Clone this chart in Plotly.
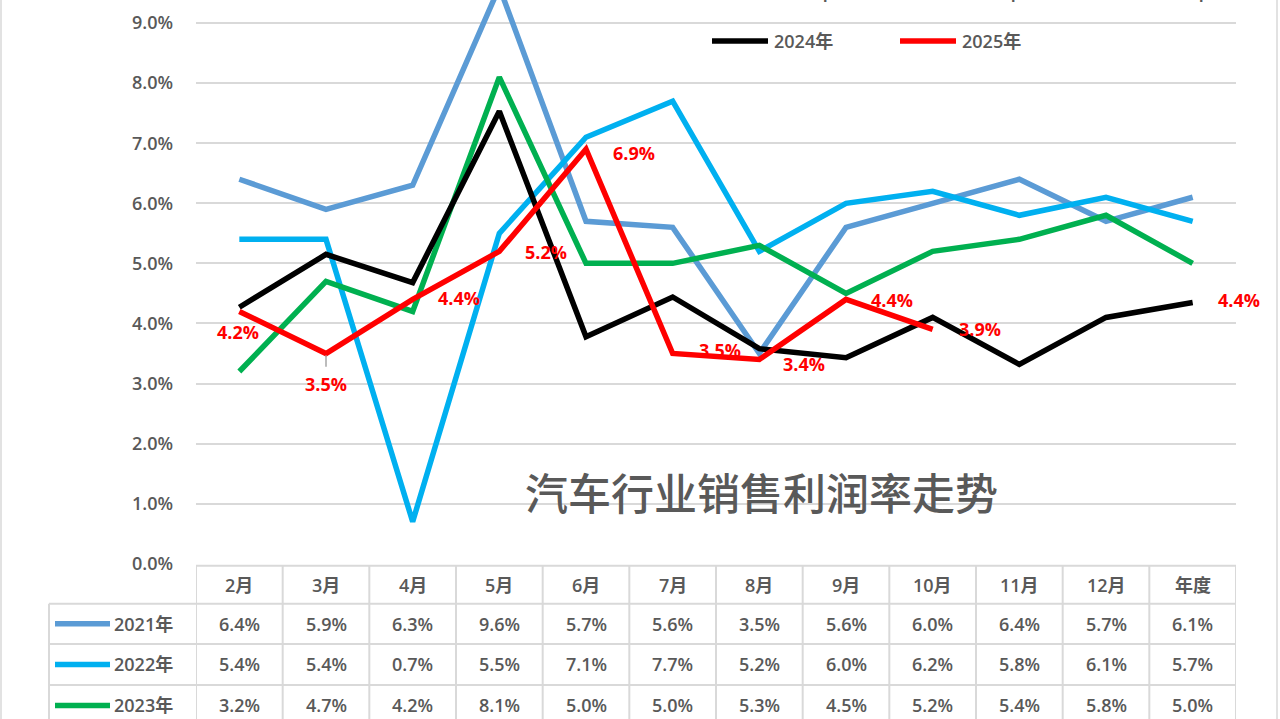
import plotly.graph_objects as go

# ---------------- data ----------------
months = ["2月", "3月", "4月", "5月", "6月", "7月", "8月", "9月", "10月", "11月", "12月", "年度"]
series_names = ["2021年", "2022年", "2023年", "2024年", "2025年"]
y2021 = [6.4, 5.9, 6.3, 9.6, 5.7, 5.6, 3.5, 5.6, 6.0, 6.4, 5.7, 6.1]
y2022 = [5.4, 5.4, 0.7, 5.5, 7.1, 7.7, 5.2, 6.0, 6.2, 5.8, 6.1, 5.7]
y2023 = [3.2, 4.7, 4.2, 8.1, 5.0, 5.0, 5.3, 4.5, 5.2, 5.4, 5.8, 5.0]
y2024 = [4.27, 5.15, 4.68, 7.53, 3.78, 4.44, 3.58, 3.43, 4.10, 3.32, 4.10, 4.35]
y2025 = [4.2, 3.5, 4.4, 5.2, 6.9, 3.5, 3.4, 4.4, 3.9]
annual_2025_label = 4.4
y_ticks = [0, 1, 2, 3, 4, 5, 6, 7, 8, 9]
title_text = "汽车行业销售利润率走势"

colors = ["#5B9BD5", "#00B0F0", "#00B050", "#000000", "#FF0000"]
all_series = [y2021, y2022, y2023, y2024, y2025]

W, H = 1280, 719          # target picture size
FIG_H = 731               # figure height (viewport is photographed slightly squeezed)
GRAY = "#595959"
GRID = "#D9D9D9"
NUMFONT = "Open Sans, Noto Sans CJK SC, sans-serif"


def px(x):
    return x / W


def py(y):
    return 1 - y / H


fig = go.Figure()
for name, vals, col in zip(series_names, all_series, colors):
    fig.add_trace(go.Scatter(
        x=months[:len(vals)], y=vals, mode="lines", name=name,
        line=dict(color=col, width=5.5), showlegend=False, hoverinfo="x+y+name"))

shapes = []
annotations = []

# 2025 data labels (offsets in pixels)
label_offsets = [(-1, -21), (0, -31), (46, 1), (47, -1), (48, -4),
                 (47, 3), (45, -4), (46, -1), (47, 0)]
for m, v, (dx, dy) in zip(months, y2025, label_offsets):
    annotations.append(dict(x=m, y=v, xref="x", yref="y", text=f"{v:.1f}%",
                            showarrow=False, xshift=dx, yshift=dy,
                            xanchor="center", yanchor="middle",
                            font=dict(family=NUMFONT, size=18, color="#FF0000", weight="bold")))
annotations.append(dict(x=months[-1], y=annual_2025_label, xref="x", yref="y",
                        text=f"{annual_2025_label:.1f}%", showarrow=False, xshift=46, yshift=-1,
                        xanchor="center", yanchor="middle",
                        font=dict(family=NUMFONT, size=18, color="#FF0000", weight="bold")))
# leader line for 3月 label
shapes.append(dict(type="line", xref="x", yref="y", x0=months[1], x1=months[1],
                   y0=y2025[1] - 0.03, y1=y2025[1] - 0.22, line=dict(color="#A6A6A6", width=1.5)))

# title inside plot
annotations.append(dict(x=px(761), y=py(490), xref="paper", yref="paper", text=title_text,
                        showarrow=False, xanchor="center", yanchor="middle",
                        font=dict(family="Noto Sans CJK SC", size=43, color=GRAY, weight=500)))

# legend (two rows, three columns; first row mostly above the visible area)
leg_pos = [(712, -7), (900, -7), (1088, -7), (712, 41), (900, 41)]
for (lx, ly), name, col in zip(leg_pos, series_names, colors):
    shapes.append(dict(type="line", xref="paper", yref="paper", x0=px(lx), x1=px(lx + 56),
                       y0=py(ly), y1=py(ly), line=dict(color=col, width=5.5)))
    annotations.append(dict(x=px(lx + 60), y=py(ly), xref="paper", yref="paper", text=name,
                            xanchor="left", yanchor="middle", showarrow=False,
                            font=dict(family=NUMFONT, size=18, color=GRAY, weight=600)))

# data table
row_edges = [565, 603, 643, 684, 725]
tab_left, tab_right = 49, 1236
shapes.append(dict(type="line", xref="paper", yref="paper", x0=px(196), x1=px(tab_right),
                   y0=py(row_edges[0]), y1=py(row_edges[0]), line=dict(color=GRID, width=2)))
for r in row_edges[1:]:
    shapes.append(dict(type="line", xref="paper", yref="paper", x0=px(tab_left), x1=px(tab_right),
                       y0=py(r), y1=py(r), line=dict(color=GRID, width=2)))
for k in range(len(months) + 1):
    shapes.append(dict(type="line", xref="x", yref="paper", x0=k - 0.5, x1=k - 0.5,
                       y0=py(row_edges[0]), y1=0, line=dict(color=GRID, width=2)))
shapes.append(dict(type="line", xref="paper", yref="paper", x0=px(tab_left), x1=px(tab_left),
                   y0=py(row_edges[1]), y1=0, line=dict(color=GRID, width=2)))

hy = (row_edges[0] + row_edges[1]) / 2
for m in months:
    annotations.append(dict(x=m, y=py(hy), xref="x", yref="paper", text=m, showarrow=False,
                            xanchor="center", yanchor="middle",
                            font=dict(family=NUMFONT, size=18, color=GRAY, weight=600)))
for i, (name, vals, col) in enumerate(zip(series_names[:3], all_series[:3], colors[:3])):
    cy = (row_edges[i + 1] + row_edges[i + 2]) / 2
    shapes.append(dict(type="line", xref="paper", yref="paper", x0=px(55), x1=px(110),
                       y0=py(cy), y1=py(cy), line=dict(color=col, width=5.5)))
    annotations.append(dict(x=px(112), y=py(cy), xref="paper", yref="paper", text=name,
                            xanchor="left", yanchor="middle", showarrow=False,
                            font=dict(family=NUMFONT, size=18, color=GRAY, weight=600)))
    for m, v in zip(months, vals):
        annotations.append(dict(x=m, y=py(cy), xref="x", yref="paper", text=f"{v:.1f}%",
                                showarrow=False, xanchor="center", yanchor="middle",
                                font=dict(family=NUMFONT, size=18, color=GRAY, weight=600)))

for bx in (1, 1277):
    shapes.append(dict(type="line", xref="paper", yref="paper", x0=px(bx), x1=px(bx),
                       y0=0, y1=1, line=dict(color=GRID, width=1.5)))

fig.update_layout(
    width=W, height=FIG_H,
    margin=dict(l=0, r=0, t=0, b=0),
    paper_bgcolor="white", plot_bgcolor="white",
    shapes=shapes, annotations=annotations,
    xaxis=dict(domain=[px(196), px(1236)], type="category", categoryorder="array",
               categoryarray=months, range=[-0.5, len(months) - 0.5],
               showticklabels=False, showgrid=False, zeroline=False, showline=False),
    yaxis=dict(domain=[py(563), 1], range=[0, 563 / 60], tickvals=y_ticks,
               ticktext=[f"{v:.1f}%" for v in y_ticks], showgrid=True, gridcolor=GRID,
               gridwidth=1.5, zeroline=False, showline=False, ticklabelstandoff=22,
               tickfont=dict(family=NUMFONT, size=18, color=GRAY, weight=600)),
)

fig.write_html("out.html", config={"displayModeBar": False},
               post_script="document.body.style.margin='0';document.body.style.overflow='hidden';")
